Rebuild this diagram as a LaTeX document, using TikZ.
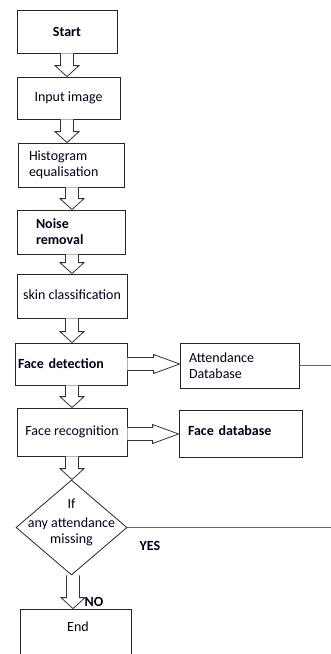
\documentclass[tikz,border=0pt]{standalone}
\usepackage{fontspec}
\setmainfont{Carlito}
\usetikzlibrary{calc,shapes.geometric}
\tikzset{
  box/.style={draw=black!85, line width=0.8pt, rectangle, inner sep=0pt},
  blk/.style={draw=black!80, line width=0.8pt, fill=white, line join=miter},
  lbl/.style={font=\fontsize{14}{16}\selectfont, text=black!90!blue, inner sep=0pt, align=left},
  bld/.style={font=\fontsize{14}{16}\selectfont\bfseries},
  link/.style={draw=black!60, line width=0.9pt},
}
% vertical block arrow: [x offset]{from}{to}
\newcommand\blkdown[3][0pt]{%
  \draw[blk] let \p1=($(#2.south)+(#1,0)$), \p2=(#3.north) in
    (\x1-6.5pt,\y1) -- (\x1-6.5pt,\y2+11pt) -- (\x1-12pt,\y2+11pt) -- (\x1,\y2)
    -- (\x1+12pt,\y2+11pt) -- (\x1+6.5pt,\y2+11pt) -- (\x1+6.5pt,\y1);}
% horizontal block arrow: [y offset]{from}{to}
\newcommand\blkright[3][0pt]{%
  \draw[blk] let \p1=($(#2.east)+(0,#1)$), \p2=(#3.west) in
    (\x1,\y1+6.5pt) -- (\x2-26pt,\y1+6.5pt) -- (\x2-26pt,\y1+9.5pt) -- (\x2,\y1)
    -- (\x2-26pt,\y1-9.5pt) -- (\x2-26pt,\y1-6.5pt) -- (\x1,\y1-6.5pt);}
\begin{document}
\begin{tikzpicture}[x=1pt,y=-1pt]
\useasboundingbox (0,0) rectangle (331,654);
\clip (0,0) rectangle (331,654);
% boxes
\node[box, minimum width=100pt, minimum height=43pt, lbl, bld] (start) at (67,31.5) {Start};
\node[box, minimum width=103pt, minimum height=42pt, lbl] (input) at (68.5,98) {Input image};
\node[box, minimum width=106pt, minimum height=44pt, lbl, text width=84pt, align=left] (hist) at (71,165) {Histogram\\equalisation};
\node[box, minimum width=108pt, minimum height=44pt, lbl, text width=70pt, align=left, bld] (noise) at (71,232) {Noise\\removal};
\node[box, minimum width=110pt, minimum height=44pt, lbl] (skin) at (72,296) {\raisebox{3pt}{skin classification}};
\node[box, minimum width=112pt, minimum height=42pt, lbl, text width=106pt, align=left, bld] (fdet) at (71,364) {Face detection};
\node[box, minimum width=110pt, minimum height=48pt, lbl] (frec) at (72,432) {Face recognition};
\node[box, minimum width=119pt, minimum height=45pt, lbl, text width=101pt, align=left] (att) at (239.5,365.5) {Attendance\\Database};
\node[box, minimum width=123pt, minimum height=47pt, lbl, text width=105pt, align=left, bld] (fdb) at (240.5,433.5) {\raisebox{5pt}{Face database}};
\node[draw=black!85, line width=0.8pt, diamond, minimum width=111pt, minimum height=95pt, inner sep=0pt] (dec) at (71.5,527.5) {};
\node[lbl, align=center] (dectxt) at (71.5,522) {If\\[3pt]any attendance\\missing};
\node[box, minimum width=111pt, minimum height=80pt] (endb) at (75.5,649) {};
\node[lbl] (endtxt) at (78,627) {End};
\node[lbl, bld] (yes) at (150,546) {YES};
\node[lbl, bld] (no) at (94,602) {NO};
% right edge ends
\coordinate (attend) at (331,365.5);
\coordinate (decend) at (331,527.5);
% block arrows
\blkdown{start}{input}
\blkdown[-1.5pt]{input}{hist}
\blkdown[1pt]{hist}{noise}
\blkdown[1pt]{noise}{skin}
\blkdown[0pt]{skin}{fdet}
\blkdown[1pt]{fdet}{frec}
\blkdown[0pt]{frec}{dec}
\blkdown[1.5pt]{dec}{endb}
\blkright{fdet}{att}
\blkright[-2pt]{frec}{fdb}
% plain lines
\draw[link] (att.east) -- (attend);
\draw[link] (dec.east) -- (decend);
\end{tikzpicture}
\end{document}
